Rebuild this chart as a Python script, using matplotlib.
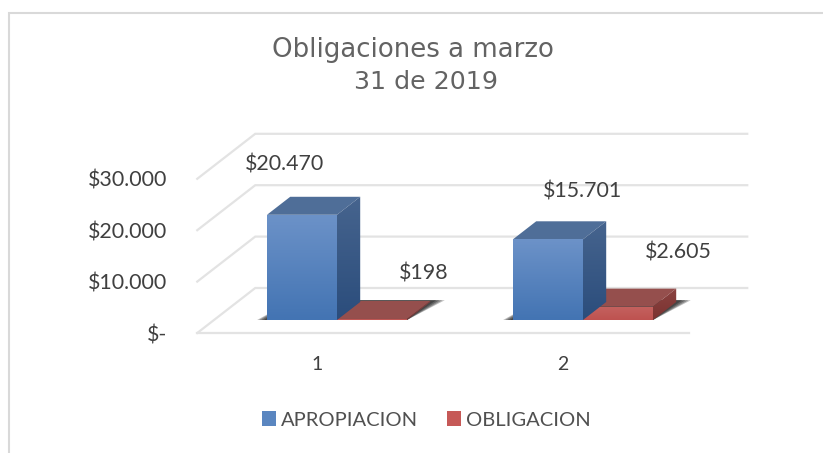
import numpy as np
from matplotlib import pyplot as plt
from matplotlib.patches import Patch, Polygon
from matplotlib.colors import LinearSegmentedColormap

plt.rcParams['font.family'] = ['Lato', 'DejaVu Sans']

#values
categories = [1, 2]
apropiacion = [20470, 15701]
obligacion = [198, 2605]
apropiacion_labels = ['$20.470', '$15.701']
obligacion_labels = ['$198', '$2.605']
y_ticks = [0, 10000, 20000, 30000]
y_tick_labels = ['$-', '$10.000', '$20.000', '$30.000']

title_lines = ['Obligaciones a marzo', '31 de 2019']
text_col = '#636363'
grid_col = '#E3E3E3'

#fake 3d: how far one unit of floor depth moves a point on the axes
px_x = 246.0        #pixels per category
px_y = 0.00514      #pixels per value
depth_x = 58 / px_x
depth_y = 45 / px_y
front = -13 / 45.0  #floor front edge, bars stand at depth 0
back = 32 / 45.0    #back wall
bar_depth = 18 / 45.0
bar_w = 70 / px_x


def proj(c, v, d=0.0):
    return (c + d * depth_x, v + d * depth_y)


def grad(ax, poly, top, bottom, x0, x1, y0, y1, z=3):
    #vertical gradient clipped to the polygon
    cmap = LinearSegmentedColormap.from_list('g', [bottom, top])
    im = ax.imshow(np.linspace(1, 0, 64).reshape(-1, 1), cmap=cmap, aspect='auto',
                   extent=(x0, x1, y0, y1), zorder=z)
    poly.set(facecolor='none', edgecolor='none', zorder=z)
    ax.add_patch(poly)
    im.set_clip_path(poly)


def shadow(ax, c0, c1):
    #soft dark floor shadow, drawn in a few see-through layers
    for grow, alpha in zip([0.05, 0.04, 0.028, 0.015], [0.3, 0.35, 0.4, 0.5]):
        pts = [proj(c0 - grow * 0.8, 0, 0), proj(c1, 0, 0),
               proj(c1 + grow, 0, bar_depth * 1.1), proj(c0, 0, bar_depth * 1.1)]
        ax.add_patch(Polygon(pts, closed=True, facecolor='#2A2A2A', edgecolor='none',
                             alpha=alpha, zorder=2))


def box(ax, c0, c1, v, cols, z):
    f_top, f_bot, t_col, s_top, s_bot = cols
    #top face
    ax.add_patch(Polygon([proj(c0, v), proj(c1, v), proj(c1, v, bar_depth), proj(c0, v, bar_depth)],
                         closed=True, facecolor=t_col, edgecolor='none', zorder=z))
    #side face
    side = Polygon([proj(c1, 0), proj(c1, v), proj(c1, v, bar_depth), proj(c1, 0, bar_depth)], closed=True)
    grad(ax, side, s_top, s_bot, c1, proj(c1, 0, bar_depth)[0], 0, proj(c1, v, bar_depth)[1], z=z)
    #front face
    bars = ax.bar(c0, v, width=c1 - c0, align='edge', color='none', zorder=z + 0.5)
    grad(ax, bars[0], f_top, f_bot, c0, c1, 0, v, z=z + 0.5)


fig = plt.figure(figsize=(8.23, 4.53), dpi=100)
ax = fig.add_axes([0, 0, 1, 1])
ax.axis('off')

#gridlines: floor/side wall diagonal and back wall
for t in y_ticks:
    xs, ys = zip(proj(0.5, t, front), proj(0.5, t, back), proj(2.5, t, back))
    ax.plot(xs, ys, color=grid_col, lw=1.6, zorder=1, solid_joinstyle='miter')
xs, ys = zip(proj(0.5, 0, front), proj(2.5, 0, front))
ax.plot(xs, ys, color=grid_col, lw=1.6, zorder=1)

blue = ('#6C92C8', '#4374B3', '#4F6E98', '#46648E', '#2B4D7C')
red = ('#C4625F', '#BE5250', '#954F4D', '#8A4240', '#7C3331')

for i, c in enumerate(categories):
    shadow(ax, c - bar_w, c + bar_w)
    box(ax, c, c + bar_w, obligacion[i], red, 4)
    box(ax, c - bar_w, c, apropiacion[i], blue, 6)

#data labels
lab = dict(fontsize=15.4, color='#404040', ha='center', va='center', zorder=10)
ax.annotate(apropiacion_labels[0], (1 - bar_w / 2, apropiacion[0]), xytext=(-17, 50), textcoords='offset pixels', **lab)
ax.annotate(apropiacion_labels[1], (2 - bar_w / 2, apropiacion[1]), xytext=(35, 48), textcoords='offset pixels', **lab)
ax.annotate(obligacion_labels[0], (1 + bar_w / 2, obligacion[0]), xytext=(52, 45), textcoords='offset pixels', **lab)
ax.annotate(obligacion_labels[1], (2 + bar_w / 2, obligacion[1]), xytext=(60, 54), textcoords='offset pixels', **lab)

#axis labels sit on the front edge of the floor
for t, s in zip(y_ticks, y_tick_labels):
    ax.annotate(s, proj(0.5, t, front), xytext=(-30, -2), textcoords='offset pixels',
                fontsize=15.4, color='#404040', ha='right', va='center')
for c in categories:
    ax.annotate(str(c), proj(c, 0, front), xytext=(-3, -32), textcoords='offset pixels',
                fontsize=14, color='#404040', ha='center', va='center')

ax.set_xlim(1 - 337 / px_x, 1 + (823 - 337) / px_x)
ax.set_ylim((320 - 453) / px_y, 320 / px_y)

#second title line sits right of the first in the original
fig.text(413 / 823, 1 - 50 / 453, title_lines[0], fontsize=18.7, color=text_col, ha='center', va='center',
         family=['DejaVu Sans'])
fig.text(426.5 / 823, 1 - 82 / 453, title_lines[1], fontsize=18.2, color=text_col, ha='center', va='center',
         family=['DejaVu Sans'])

handles = [Patch(facecolor='#5A86C0', label='APROPIACION'), Patch(facecolor='#C65957', label='OBLIGACION')]
ax.legend(handles=handles, ncol=2, loc='center', bbox_to_anchor=(426.5 / 823, 1 - 420 / 453),
          frameon=False, fontsize=14.5, labelcolor='#505050', handlelength=0.7, handleheight=0.7,
          handletextpad=0.25, columnspacing=1.45)

#chart frame, only top and left show in the crop
fig.add_artist(plt.Line2D([8.5 / 823, 8.5 / 823, 1], [0, 1 - 12.5 / 453, 1 - 12.5 / 453],
                          color='#D9D9D9', lw=1.5, solid_joinstyle='miter'))

fig.savefig('out.png', dpi=100)
